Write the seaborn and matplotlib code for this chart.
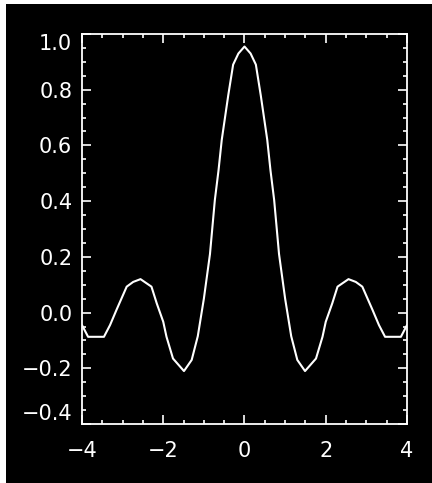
import matplotlib
matplotlib.use("Agg")
import matplotlib.pyplot as plt
from matplotlib.patches import Rectangle
from matplotlib.ticker import MultipleLocator
import seaborn as sns
import pandas as pd

# Values
x_vals = [-4.0, -3.85, -3.46, -3.31, -3.15, -2.90, -2.74, -2.56, -2.29, -2.16,
          -2.00, -1.92, -1.76, -1.49, -1.30, -1.15, -1.00, -0.85, -0.73,
          -0.64, -0.56, -0.40, -0.28, -0.15, 0.0,
          0.15, 0.28, 0.40, 0.56, 0.64, 0.73, 0.85, 1.00, 1.15,
          1.30, 1.49, 1.76, 1.92, 2.00, 2.16, 2.29, 2.56, 2.74, 2.90,
          3.15, 3.31, 3.46, 3.85, 4.0]
y_vals = [-0.045, -0.087, -0.087, -0.045, 0.010, 0.093, 0.110, 0.120, 0.093, 0.033,
          -0.033, -0.087, -0.165, -0.210, -0.170, -0.085, 0.050, 0.210, 0.404,
          0.510, 0.620, 0.780, 0.890, 0.930, 0.955,
          0.930, 0.890, 0.780, 0.620, 0.510, 0.404, 0.210, 0.050, -0.085,
          -0.170, -0.210, -0.165, -0.087, -0.033, 0.033, 0.093, 0.120, 0.110, 0.093,
          0.010, -0.045, -0.087, -0.087, -0.045]

x_ticks = [-4, -2, 0, 2, 4]
x_tick_labels = ["\u22124", "\u22122", "0", "2", "4"]
y_ticks = [-0.4, -0.2, 0.0, 0.2, 0.4, 0.6, 0.8, 1.0]
y_tick_labels = ["\u22120.4", "\u22120.2", "0.0", "0.2", "0.4", "0.6", "0.8", "1.0"]

df = pd.DataFrame({"x": x_vals, "y": y_vals})

sns.set_theme(style="ticks")
plt.rcParams["font.family"] = ["DejaVu Sans"]

W, H = 432, 483
fig = plt.figure(figsize=(W / 100, H / 100), dpi=100, facecolor="white")
fig.patches.append(Rectangle((6 / W, 0), 1 - 6 / W, 1 - 4 / H,
                             transform=fig.transFigure, facecolor="black",
                             edgecolor="none", zorder=-10))

ax = fig.add_axes([82 / W, 1 - 424 / H, (407 - 82) / W, (424 - 34) / H])
ax.set_facecolor("black")

sns.lineplot(data=df, x="x", y="y", ax=ax, color="white", linewidth=1.5,
             sort=False, estimator=None)

ax.set_xlim(-4, 4)
ax.set_ylim(-0.4, 1.0)
ax.set_xlabel("")
ax.set_ylabel("")

for s in ax.spines.values():
    s.set_color("white")
    s.set_linewidth(1.3)
    s.set_visible(True)

ax.set_xticks(x_ticks)
ax.set_xticklabels(x_tick_labels)
ax.set_yticks(y_ticks)
ax.set_yticklabels(y_tick_labels)
ax.xaxis.set_minor_locator(MultipleLocator(0.5))
ax.yaxis.set_minor_locator(MultipleLocator(0.05))

ax.tick_params(axis="both", which="both", direction="in", colors="white",
               top=True, right=True, bottom=True, left=True)
ax.tick_params(axis="both", which="major", length=6.5, width=1.2, labelsize=15,
               labelcolor="white")
ax.tick_params(axis="both", which="minor", length=3.0, width=1.2)
ax.tick_params(axis="x", which="major", pad=12)
ax.tick_params(axis="y", which="major", pad=7)

ylabels = ax.get_yticklabels()
ylabels[-1].set_va("top")
ylabels[0].set_va("bottom")

fig.savefig("out.png", dpi=100, facecolor=fig.get_facecolor())
